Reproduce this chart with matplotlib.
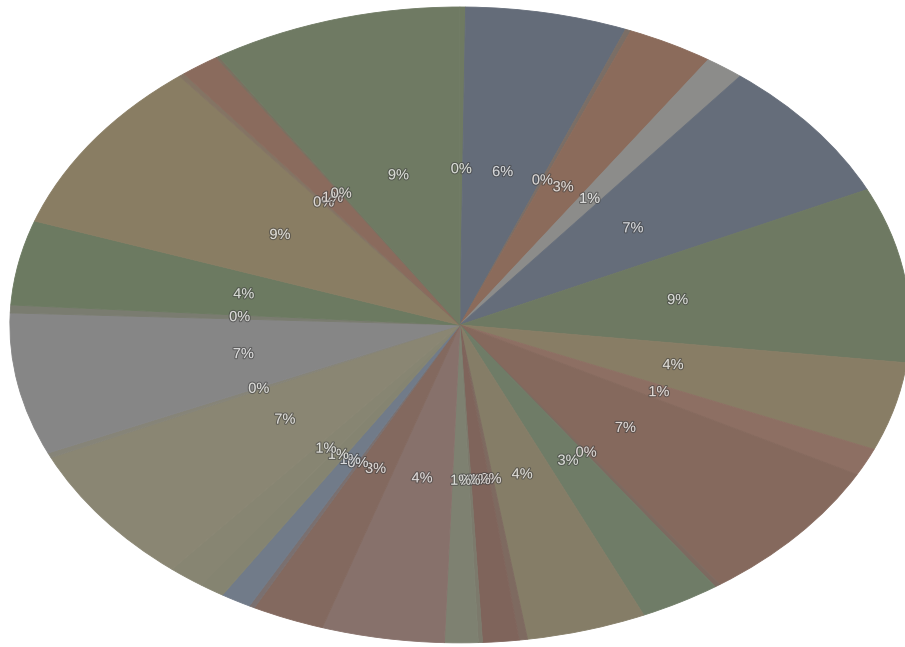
import matplotlib
matplotlib.use("Agg")
import matplotlib.pyplot as plt
import matplotlib.patheffects as pe
from matplotlib.colors import to_rgb

# Share of each category (percent), clockwise from 12 o'clock
shares = [0.2, 5.8, 0.2, 3.1, 1.4, 7.3, 8.9, 4.5, 1.4, 7.4, 0.2,
          2.9, 4.3, 0.3, 1.3, 0.15, 1.2, 4.4, 2.6, 0.2, 1.1, 0.9,
          1.3, 7.1, 0.25, 7.2, 0.4, 4.3, 9.0, 0.2, 1.4, 0.1, 9.0]

slice_colors = ['#6f7a62', '#646c79', '#7a6e66', '#8b6b5b', '#8c8c8a',
                '#656d7a', '#6e7962', '#887d65', '#8d6f63', '#85695d',
                '#7d6a60', '#6f7c67', '#857d67', '#7e6a60', '#7f645b',
                '#7c7a6c', '#7e8171', '#87716b', '#83695f', '#7a7070',
                '#717b89', '#858471', '#878572', '#8a8673', '#868478',
                '#868686', '#7a7c70', '#6c7a61', '#897d63', '#847464',
                '#8a6b5d', '#7a7060', '#6f7a63']


def lighten(c, f=0.72):
    r, g, b = to_rgb(c)
    return (r + (1 - r) * f, g + (1 - g) * f, b + (1 - b) * f)


fig = plt.figure(figsize=(9.05, 6.47), dpi=100)
ax = fig.add_axes([0, 0, 1, 1])

wedges, texts, autotexts = ax.pie(
    shares,
    colors=slice_colors,
    startangle=90,
    counterclock=False,
    autopct='%.0f%%',
    pctdistance=0.49,
    radius=1.0,
    wedgeprops=dict(linewidth=0.6, antialiased=True),
    textprops=dict(fontsize=10.5, family=['Liberation Sans', 'DejaVu Sans']),
)

# edge each wedge in its own colour so no seams show between slices
for w in wedges:
    w.set_edgecolor(w.get_facecolor())

for t, c in zip(autotexts, slice_colors):
    t.set_color(lighten(c))
    t.set_path_effects([pe.withStroke(linewidth=1.6, foreground=(0.25, 0.25, 0.25, 0.55))])

ax.set_aspect('auto')
ax.set_xlim(-1.022, 0.989)
ax.set_ylim(-1.013, 1.022)
ax.axis('off')

fig.savefig('out.png', dpi=100)
